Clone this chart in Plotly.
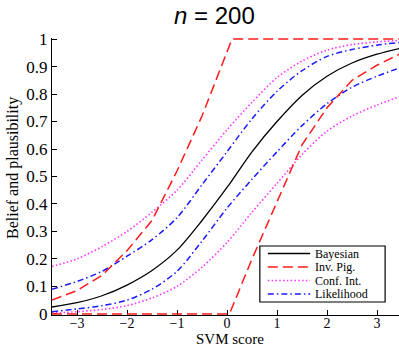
import plotly.graph_objects as go

# SVM score grid where the curves were read
score = [-3.5, -3.0, -2.5, -2.0, -1.5, -1.0, -0.5, 0.0, 0.5, 1.0, 1.5, 2.0, 2.5, 3.0, 3.45]

bayesian = [0.025, 0.041, 0.066, 0.105, 0.158, 0.232, 0.34, 0.46, 0.59, 0.70, 0.795, 0.865, 0.913, 0.945, 0.966]

lik_upper = [0.09, 0.118, 0.155, 0.21, 0.27, 0.35, 0.47, 0.59, 0.71, 0.81, 0.885, 0.937, 0.962, 0.978, 0.988]
lik_lower = [0.008, 0.018, 0.03, 0.05, 0.09, 0.155, 0.265, 0.385, 0.49, 0.59, 0.685, 0.765, 0.825, 0.865, 0.895]

ci_upper = [0.173, 0.20, 0.245, 0.30, 0.37, 0.45, 0.56, 0.67, 0.77, 0.86, 0.92, 0.96, 0.98, 0.99, 0.995]
ci_lower = [0.003, 0.008, 0.016, 0.03, 0.058, 0.10, 0.17, 0.26, 0.37, 0.475, 0.58, 0.665, 0.72, 0.76, 0.79]

ip_upper_x = [-3.5, -3.0, -2.5, -2.0, -1.5, -1.0, -0.5, 0.0, 0.1, 3.45]
ip_upper_y = [0.05, 0.085, 0.14, 0.23, 0.34, 0.52, 0.72, 0.95, 1.0, 1.0]
ip_lower_x = [-3.5, 0.05, 0.5, 1.0, 1.5, 2.0, 2.5, 3.0, 3.45]
ip_lower_y = [0.0, 0.0, 0.2, 0.41, 0.615, 0.75, 0.85, 0.905, 0.945]

x_ticks = [-3, -2, -1, 0, 1, 2, 3]
y_ticks = [0, 0.1, 0.2, 0.3, 0.4, 0.5, 0.6, 0.7, 0.8, 0.9, 1]
y_tick_text = ["0", "0.1", "0.2", "0.3", "0.4", "0.5", "0.6", "0.7", "0.8", "0.9", "1"]

legend_names = ["Bayesian", "Inv. Pig.", "Conf. Int.", "Likelihood"]

STYLE = {
    "Bayesian": dict(color="black", width=1.3, dash="solid"),
    "Inv. Pig.": dict(color="#ff1a1a", width=1.5, dash="10px,5px"),
    "Conf. Int.": dict(color="#ff33ff", width=1.6, dash="1.5px,2.3px"),
    "Likelihood": dict(color="#1a1aff", width=1.5, dash="6px,3px,1.5px,3px"),
}

SERIF = "Liberation Serif, Times New Roman, serif"

fig = go.Figure()

def add(xs, ys, name, shape="spline"):
    fig.add_trace(go.Scatter(x=xs, y=ys, mode="lines", name=name,
                             line=dict(**STYLE[name], shape=shape, smoothing=0.8),
                             showlegend=False, hoverinfo="skip"))

add(score, ci_upper, "Conf. Int.")
add(score, ci_lower, "Conf. Int.")
add(score, lik_upper, "Likelihood")
add(score, lik_lower, "Likelihood")
add(ip_upper_x, ip_upper_y, "Inv. Pig.", shape="linear")
add(ip_lower_x, ip_lower_y, "Inv. Pig.", shape="linear")
add(score, bayesian, "Bayesian")

# compact legend box drawn in plot-area paper coordinates (plot area: 347 x 277 px)
def px_y(py):
    return (315 - py) / 277

shapes = [dict(type="rect", xref="paper", yref="paper", x0=0.599, x1=0.960, y0=px_y(302), y1=px_y(246),
               line=dict(color="black", width=1.2), fillcolor="white", layer="above")]
annotations = []
row_y = [px_y(253.5), px_y(267.0), px_y(280.5), px_y(294.0)]
for name, yy in zip(legend_names, row_y):
    st = STYLE[name]
    shapes.append(dict(type="line", xref="paper", yref="paper", x0=0.622, x1=0.744, y0=yy, y1=yy,
                       line=dict(color=st["color"], width=st["width"], dash=st["dash"]), layer="above"))
    annotations.append(dict(xref="paper", yref="paper", x=0.752, y=yy, text=name, showarrow=False,
                            xanchor="left", yanchor="middle",
                            font=dict(family=SERIF, size=12, color="black")))

# title and axis titles
annotations.append(dict(xref="paper", yref="paper", x=(214 - 52) / 347, y=1.0, yshift=7,
                        text="<i>n</i> = 200", showarrow=False, xanchor="center", yanchor="bottom",
                        font=dict(family="Liberation Sans, Arial, sans-serif", size=24, color="black")))
annotations.append(dict(xref="paper", yref="paper", x=(230 - 52) / 347, y=0, yshift=-34,
                        text="SVM score", showarrow=False, xanchor="center", yanchor="bottom",
                        font=dict(family=SERIF, size=15, color="black")))
annotations.append(dict(xref="paper", yref="paper", x=0, xshift=-39, y=(315 - 168) / 277,
                        text="Belief and plausibility", showarrow=False, textangle=-90,
                        xanchor="center", yanchor="middle",
                        font=dict(family=SERIF, size=16, color="black")))

fig.update_layout(
    width=399, height=349,
    margin=dict(l=52, r=0, t=38, b=34),
    paper_bgcolor="white", plot_bgcolor="white",
    shapes=shapes, annotations=annotations,
    showlegend=False,
    xaxis=dict(range=[-3.5, 3.44], tickvals=x_ticks, ticks="inside", ticklen=5, tickcolor="black",
               showline=True, linecolor="black", linewidth=1.2, showgrid=False, zeroline=False,
               ticklabelstandoff=-5,
               tickfont=dict(family=SERIF, size=14, color="black"), layer="below traces"),
    yaxis=dict(range=[-0.004, 1.004], tickvals=y_ticks, ticktext=y_tick_text, ticks="inside", ticklen=5,
               tickcolor="black", showline=True, linecolor="black", linewidth=1.2, showgrid=False,
               zeroline=False, tickfont=dict(family=SERIF, size=17, color="black"), layer="below traces"),
)

fig.write_html("out.html", config={"displayModeBar": False})
